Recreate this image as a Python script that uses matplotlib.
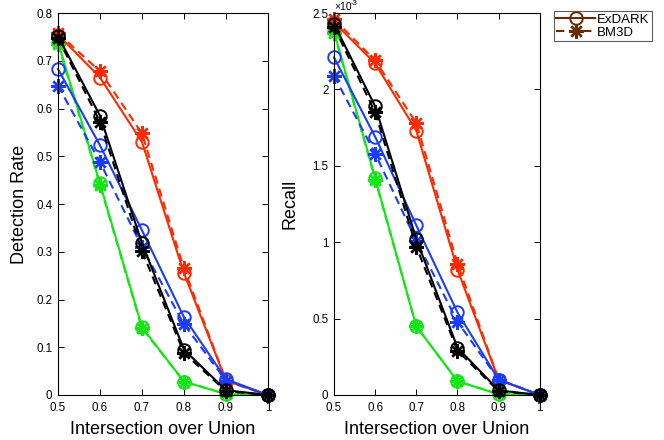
import matplotlib
matplotlib.use("Agg")
import matplotlib.pyplot as plt
from matplotlib.lines import Line2D
from matplotlib.ticker import FuncFormatter
from matplotlib.transforms import offset_copy

plt.rcParams['font.family'] = ['Liberation Sans', 'DejaVu Sans']

iou = [0.5, 0.6, 0.7, 0.8, 0.9, 1.0]

# Detection rate
det_red_ex = [0.755, 0.665, 0.530, 0.255, 0.030, 0.0]
det_red_bm = [0.758, 0.678, 0.548, 0.265, 0.030, 0.0]
det_blk_ex = [0.752, 0.585, 0.318, 0.095, 0.010, 0.0]
det_blk_bm = [0.748, 0.572, 0.302, 0.088, 0.008, 0.0]
det_blu_ex = [0.683, 0.523, 0.345, 0.163, 0.033, 0.0]
det_blu_bm = [0.648, 0.488, 0.310, 0.148, 0.030, 0.0]
det_grn_ex = [0.740, 0.443, 0.142, 0.028, 0.002, 0.0]
det_grn_bm = [0.735, 0.440, 0.140, 0.028, 0.002, 0.0]

# Recall (x 1e-3)
rec_red_ex = [2.44, 2.17, 1.73, 0.82, 0.10, 0.0]
rec_red_bm = [2.46, 2.19, 1.78, 0.86, 0.10, 0.0]
rec_blk_ex = [2.43, 1.89, 1.02, 0.31, 0.03, 0.0]
rec_blk_bm = [2.41, 1.85, 0.97, 0.29, 0.025, 0.0]
rec_blu_ex = [2.21, 1.69, 1.11, 0.54, 0.10, 0.0]
rec_blu_bm = [2.09, 1.58, 1.01, 0.48, 0.10, 0.0]
rec_grn_ex = [2.38, 1.42, 0.45, 0.09, 0.005, 0.0]
rec_grn_bm = [2.37, 1.41, 0.45, 0.09, 0.005, 0.0]

RED = '#ff2a00'
BLK = '#000000'
BLU = '#1a3cff'
GRN = '#14e614'
BRN = '#6b2a00'

AST = (8, 2, 0)
lw = 1.5
ms_o = 9
ms_a = 10.5

fig = plt.figure(figsize=(6.64, 4.40), dpi=100)
ax1 = fig.add_axes([0.0873, 0.1023, 0.3163, 0.868])
ax2 = fig.add_axes([0.503, 0.1023, 0.310, 0.868])

def draw(ax, series):
    for col, ex, bm in series:
        ax.plot(iou, bm, color=col, ls=(0, (4, 2.5)), lw=lw, marker=AST,
                ms=ms_a, mew=1.7, mfc='none', mec=col)
        ax.plot(iou, ex, color=col, ls='-', lw=lw, marker='o',
                ms=ms_o, mew=1.4, mfc='none', mec=col)

draw(ax1, [(GRN, det_grn_ex, det_grn_bm), (RED, det_red_ex, det_red_bm),
           (BLU, det_blu_ex, det_blu_bm), (BLK, det_blk_ex, det_blk_bm)])
draw(ax2, [(GRN, rec_grn_ex, rec_grn_bm), (RED, rec_red_ex, rec_red_bm),
           (BLU, rec_blu_ex, rec_blu_bm), (BLK, rec_blk_ex, rec_blk_bm)])

fmt = FuncFormatter(lambda v, p: ('%g' % round(v, 3)))
for ax in (ax1, ax2):
    ax.set_xlim(0.5, 1.0)
    ax.set_xticks(iou)
    ax.xaxis.set_major_formatter(fmt)
    ax.yaxis.set_major_formatter(fmt)
    ax.tick_params(direction='in', top=True, right=True, labelsize=8.3,
                   length=4, width=0.7)
    ax.tick_params(axis='x', pad=5)
    ax.tick_params(axis='y', pad=4)
    for s in ax.spines.values():
        s.set_linewidth(0.8)
    ax.set_xlabel('Intersection over Union', fontsize=13, labelpad=5)
    for m in ax.get_lines():
        m.set_clip_on(False)

ax1.set_ylim(0, 0.8)
ax1.set_yticks([0, 0.1, 0.2, 0.3, 0.4, 0.5, 0.6, 0.7, 0.8])
ax1.set_ylabel('Detection Rate', fontsize=13, labelpad=6)

ax2.set_ylim(0, 2.5)
ax2.set_yticks([0, 0.5, 1, 1.5, 2, 2.5])
ax2.set_ylabel('Recall', fontsize=13, labelpad=10)
ax2.text(0.0, 1.0, '\u00d710',
         transform=offset_copy(ax2.transAxes, fig=fig, x=0, y=2.2, units='points'),
         fontsize=7.5, ha='left', va='baseline')
ax2.text(0.0, 1.0, '-3',
         transform=offset_copy(ax2.transAxes, fig=fig, x=12, y=5.8, units='points'),
         fontsize=5.5, ha='left', va='baseline')

handles = [
    Line2D([], [], color=BRN, ls='-', lw=lw, marker='o', ms=ms_o, mew=1.4, mfc='none', mec=BRN),
    Line2D([], [], color=BRN, ls=(0, (4, 2.5)), lw=lw, marker=AST, ms=ms_a, mew=1.7, mec=BRN),
]
leg = fig.legend(handles, ['ExDARK', 'BM3D'], loc='upper left',
                 bbox_to_anchor=(0.834, 0.975), fontsize=9.5, frameon=True,
                 fancybox=False, edgecolor='#333333', handlelength=2.9,
                 handletextpad=0.15, borderpad=0.2, labelspacing=0.05,
                 borderaxespad=0)
leg.get_frame().set_linewidth(0.8)

fig.savefig('out.png', dpi=100)
